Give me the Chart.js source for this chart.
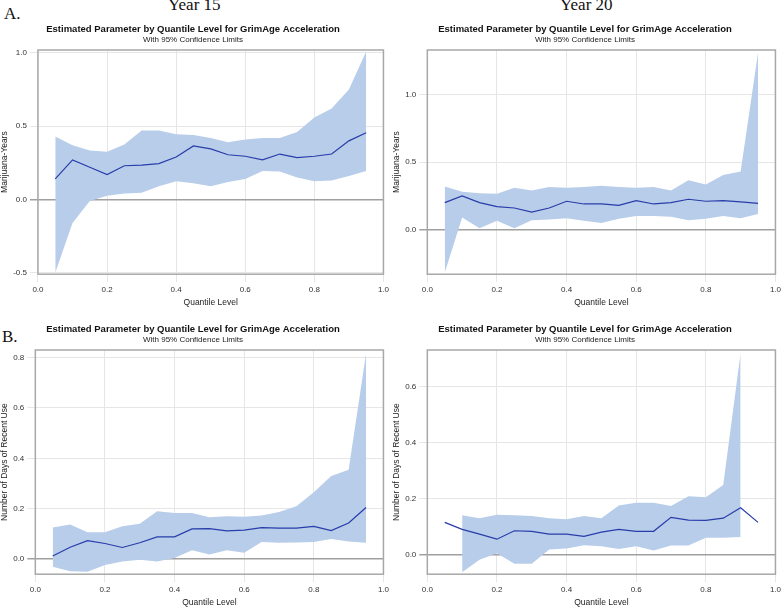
<!DOCTYPE html>
<html><head><meta charset="utf-8">
<script src="https://cdn.jsdelivr.net/npm/chart.js@4"></script>
<style>
body{margin:0;width:784px;height:610px;background:#fff;position:relative;overflow:hidden;font-family:"Liberation Serif",serif}
canvas{position:absolute}
.h{position:absolute;font-size:17px;color:#111}
</style></head><body>
<div class="h" style="left:168px;top:-5px">Year 15</div>
<div class="h" style="left:560px;top:-5px">Year 20</div>
<div class="h" style="left:4px;top:4px">A.</div>
<div class="h" style="left:2px;top:327px">B.</div>
<canvas id="c0" style="left:0;top:20px" width="392" height="290"></canvas>
<canvas id="c1" style="left:392px;top:20px" width="392" height="290"></canvas>
<canvas id="c2" style="left:0;top:320px" width="392" height="290"></canvas>
<canvas id="c3" style="left:392px;top:320px" width="392" height="290"></canvas>
<script>
const quantiles=[0.05,0.1,0.15,0.2,0.25,0.3,0.35,0.4,0.45,0.5,0.55,0.6,0.65,0.7,0.75,0.8,0.85,0.9,0.95];
const xTicks=[0,0.2,0.4,0.6,0.8,1.0];

const a15Est=[0.14,0.27,0.22,0.17,0.23,0.235,0.245,0.29,0.365,0.345,0.305,0.295,0.27,0.31,0.285,0.295,0.31,0.40,0.455];
const a15Up=[0.43,0.37,0.335,0.325,0.375,0.47,0.47,0.445,0.44,0.42,0.39,0.41,0.42,0.42,0.46,0.56,0.62,0.75,1.01];
const a15Lo=[-0.50,-0.16,-0.01,0.025,0.04,0.045,0.09,0.125,0.11,0.09,0.12,0.14,0.195,0.19,0.15,0.125,0.13,0.16,0.195];
const a15YTicks=[-0.5,0,0.5,1.0];

const a20Est=[0.2,0.25,0.2,0.17,0.16,0.13,0.16,0.21,0.19,0.19,0.18,0.215,0.19,0.2,0.225,0.21,0.215,0.205,0.195];
const a20Up=[0.32,0.28,0.27,0.265,0.31,0.29,0.315,0.31,0.315,0.325,0.315,0.31,0.315,0.29,0.365,0.335,0.405,0.43,1.31];
const a20Lo=[-0.32,0.09,0.01,0.065,0.01,0.07,0.075,0.085,0.065,0.05,0.08,0.1,0.1,0.095,0.07,0.08,0.1,0.085,0.115];
const a20YTicks=[0,0.5,1.0];

const b15Est=[0.012,0.047,0.073,0.062,0.046,0.065,0.088,0.088,0.12,0.121,0.112,0.115,0.125,0.123,0.123,0.13,0.113,0.143,0.205];
const b15Up=[0.125,0.137,0.107,0.107,0.13,0.14,0.19,0.183,0.183,0.166,0.17,0.168,0.173,0.187,0.21,0.265,0.33,0.355,0.815];
const b15Lo=[-0.03,-0.048,-0.05,-0.023,-0.01,-0.003,-0.01,0.004,0.035,0.018,0.035,0.025,0.068,0.065,0.066,0.068,0.08,0.07,0.065];
const b15YTicks=[0,0.2,0.4,0.6,0.8];

const b20Est=[0.115,0.09,0.073,0.055,0.085,0.083,0.073,0.073,0.065,0.08,0.09,0.083,0.083,0.133,0.123,0.122,0.13,0.167,0.115];
const b20Up=[null,0.14,0.13,0.142,0.14,0.138,0.13,0.126,0.138,0.13,0.175,0.185,0.185,0.173,0.208,0.205,0.248,0.72,null];
const b20Lo=[null,-0.063,-0.018,0.005,-0.033,-0.033,0.018,0.022,0.033,0.03,0.02,0.03,0.015,0.032,0.032,0.06,0.06,0.063,null];
const b20YTicks=[0,0.2,0.4,0.6];

const frame={id:'frame',afterDraw(c){const a=c.chartArea,x=c.ctx;x.save();x.strokeStyle='#a8a8a8';x.lineWidth=1.5;x.strokeRect(a.left,a.top,a.right-a.left,a.bottom-a.top);x.restore();}};
function pts(v){return quantiles.map((q,i)=>({x:q,y:v[i]}));}
const F='Liberation Sans';
function make(id,est,up,lo,yt,ymin,ymax,ytitle){
  new Chart(document.getElementById(id),{type:'line',
    data:{datasets:[
      {data:pts(up),borderWidth:0,pointRadius:0,fill:'+1',backgroundColor:'rgb(184,205,233)',order:2},
      {data:pts(lo),borderWidth:0,pointRadius:0,fill:false,order:3},
      {data:pts(est),borderColor:'rgb(40,60,170)',borderWidth:1.2,pointRadius:0,fill:false,order:0}
    ]},
    options:{responsive:false,animation:false,
      layout:{padding:{left:0,right:6,top:0,bottom:2}},
      plugins:{legend:{display:false},tooltip:{enabled:false},
        title:{display:true,text:'Estimated Parameter by Quantile Level for GrimAge Acceleration',color:'#111',font:{family:F,size:9.5,weight:'bold'},padding:{top:4,bottom:0}},
        subtitle:{display:true,text:'With 95% Confidence Limits',color:'#222',font:{family:F,size:8},padding:{top:0,bottom:5}}},
      scales:{
        x:{type:'linear',min:0,max:1,afterBuildTicks:s=>{s.ticks=xTicks.map(v=>({value:v}));},
          ticks:{callback:v=>v.toFixed(1),font:{family:F,size:8},color:'#333',maxRotation:0},
          grid:{color:'#e6e6e6'},border:{display:false},
          title:{display:true,text:'Quantile Level',font:{family:F,size:8.5},color:'#222',padding:0}},
        y:{min:ymin,max:ymax,afterBuildTicks:s=>{s.ticks=yt.map(v=>({value:v}));},
          ticks:{callback:v=>v.toFixed(1),font:{family:F,size:8},color:'#333'},
          grid:{color:c=>c.tick&&c.tick.value===0?'#a0a0a0':'#e6e6e6',lineWidth:c=>c.tick&&c.tick.value===0?1.5:1},border:{display:false},
          title:{display:true,text:ytitle,font:{family:F,size:8.5},color:'#222',padding:0}}
      }},plugins:[frame]});
}
make('c0',a15Est,a15Up,a15Lo,a15YTicks,-0.51,1.02,'Marijuana-Years');
make('c1',a20Est,a20Up,a20Lo,a20YTicks,-0.33,1.33,'Marijuana-Years');
make('c2',b15Est,b15Up,b15Lo,b15YTicks,-0.06,0.83,'Number of Days of Recent Use');
make('c3',b20Est,b20Up,b20Lo,b20YTicks,-0.07,0.73,'Number of Days of Recent Use');
</script></body></html>
